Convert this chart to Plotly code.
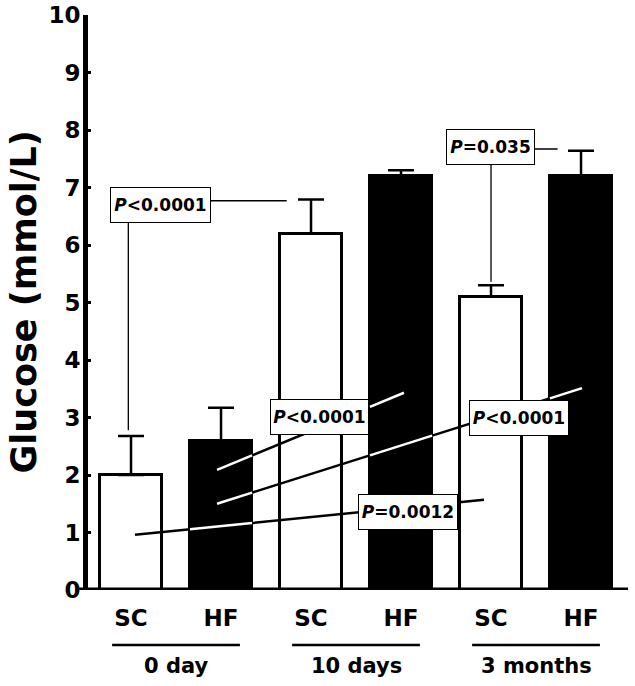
import plotly.graph_objects as go

# ---------------- data ----------------
categories = ["SC", "HF", "SC", "HF", "SC", "HF"]
periods = ["0 day", "10 days", "3 months"]
glucose_mean = [2.0, 2.6, 6.2, 7.2, 5.1, 7.2]
glucose_sem = [0.68, 0.57, 0.59, 0.10, 0.20, 0.44]
y_ticks = [0, 1, 2, 3, 4, 5, 6, 7, 8, 9, 10]

# P-value labels (position in category units / mmol/L)
p_texts = ["P<0.0001", "P<0.0001", "P<0.0001", "P=0.0012", "P=0.035"]
p_box_x = [0.33, 2.09, 4.31, 3.08, 3.99]
p_box_y = [6.70, 3.01, 3.00, 1.36, 7.70]
p_box_w = [101, 99, 100, 100, 89]

# diagonal comparison lines
diag_x0 = [0.956, 0.956, 0.044]
diag_y0 = [2.09, 1.50, 0.96]
diag_x1 = [3.033, 5.011, 3.922]
diag_y1 = [3.43, 3.51, 1.57]

# bracket comparison lines
bracket_x = [[-0.03, -0.03, 1.73], [4.0, 4.0, 4.74]]
bracket_y = [[2.78, 6.77, 6.77], [5.36, 7.67, 7.67]]

# ---------------- figure ----------------
BAR_W = 0.69
FONT = "DejaVu Sans"
xs = list(range(len(categories)))
fills = ["white" if c == "SC" else "black" for c in categories]

fig = go.Figure()
fig.add_trace(go.Bar(
    x=xs, y=glucose_mean, width=BAR_W,
    marker=dict(color=fills, line=dict(color="black", width=3)),
    error_y=dict(type="data", array=glucose_sem, arrayminus=[0] * len(xs),
                 symmetric=False, color="black", thickness=2.5, width=13),
    showlegend=False, hoverinfo="skip",
))


def clip_segment(x0, y0, x1, y1, xmin, xmax, ymin, ymax):
    t0, t1 = 0.0, 1.0
    dx, dy = x1 - x0, y1 - y0
    for p, q in ((-dx, x0 - xmin), (dx, xmax - x0), (-dy, y0 - ymin), (dy, ymax - y0)):
        if p == 0:
            if q < 0:
                return None
        else:
            r = q / p
            if p < 0:
                t0 = max(t0, r)
            else:
                t1 = min(t1, r)
    if t0 >= t1:
        return None
    return (x0 + t0 * dx, y0 + t0 * dy, x0 + t1 * dx, y0 + t1 * dy)


for x0, y0, x1, y1 in zip(diag_x0, diag_y0, diag_x1, diag_y1):
    fig.add_trace(go.Scatter(x=[x0, x1], y=[y0, y1], mode="lines",
                             line=dict(color="black", width=2.5),
                             showlegend=False, hoverinfo="skip"))
    for i, (xi, v, f) in enumerate(zip(xs, glucose_mean, fills)):
        if f != "black":
            continue
        seg = clip_segment(x0, y0, x1, y1, xi - BAR_W / 2, xi + BAR_W / 2, 0, v)
        if seg:
            fig.add_trace(go.Scatter(x=[seg[0], seg[2]], y=[seg[1], seg[3]], mode="lines",
                                     line=dict(color="white", width=2.5),
                                     showlegend=False, hoverinfo="skip"))

for bx, by in zip(bracket_x, bracket_y):
    fig.add_trace(go.Scatter(x=bx, y=by, mode="lines",
                             line=dict(color="black", width=1.3),
                             showlegend=False, hoverinfo="skip"))

for t, x, y, w in zip(p_texts, p_box_x, p_box_y, p_box_w):
    label = "<i>P</i>" + t[1:].replace("<", "&lt;")
    fig.add_annotation(x=x, y=y, xref="x", yref="y", text=label, showarrow=False,
                       font=dict(family=FONT, size=17, color="black", weight="bold"),
                       bgcolor="white", bordercolor="black", borderwidth=1, borderpad=2,
                       width=w - 6, height=30, align="center")

# x axis line at y = 0
fig.add_shape(type="line", xref="paper", yref="y", x0=-9 / 540, x1=1, y0=0, y1=0,
              line=dict(color="black", width=5), layer="above")

# period labels and underlines
for g, name in enumerate(periods):
    c = (xs[2 * g] + xs[2 * g + 1]) / 2
    fig.add_shape(type="line", xref="x", yref="paper", x0=c - 0.71, x1=c + 0.71,
                  y0=-0.0957, y1=-0.0957, line=dict(color="black", width=2.5))
    fig.add_annotation(x=c, y=-0.132, xref="x", yref="paper", text=name, showarrow=False,
                       font=dict(family=FONT, size=21, color="black", weight="bold"),
                       xanchor="center", yanchor="middle")

# y title
fig.add_annotation(x=0, y=0.5, xref="paper", yref="paper", xshift=-65,
                   text="Glucose (mmol/L)", textangle=-90, showarrow=False,
                   font=dict(family=FONT, size=35, color="black", weight="bold"),
                   xanchor="center", yanchor="middle")

fig.update_layout(
    width=635, height=686,
    margin=dict(l=88, r=7, t=15, b=96),
    paper_bgcolor="white", plot_bgcolor="white",
    font=dict(family=FONT, color="black", weight="bold"),
    bargap=0,
    xaxis=dict(range=[-0.478, 5.522], tickvals=xs, ticktext=categories, automargin=False,
               tickfont=dict(family=FONT, size=23, color="black", weight="bold"),
               showgrid=False, zeroline=False, showline=False, ticks="",
               ticklabelstandoff=12),
    yaxis=dict(range=[0, 10], tickvals=y_ticks, automargin=False,
               tickfont=dict(family=FONT, size=23, color="black", weight="bold"),
               showgrid=False, zeroline=False, showline=True, linecolor="black", linewidth=5,
               ticks="inside", ticklen=3, tickwidth=3, tickcolor="black",
               ticklabelstandoff=-2, ticklabeloverflow="allow"),
)

fig.write_html("out.html", config={"displayModeBar": False},
               post_script="document.body.style.margin='0';")
